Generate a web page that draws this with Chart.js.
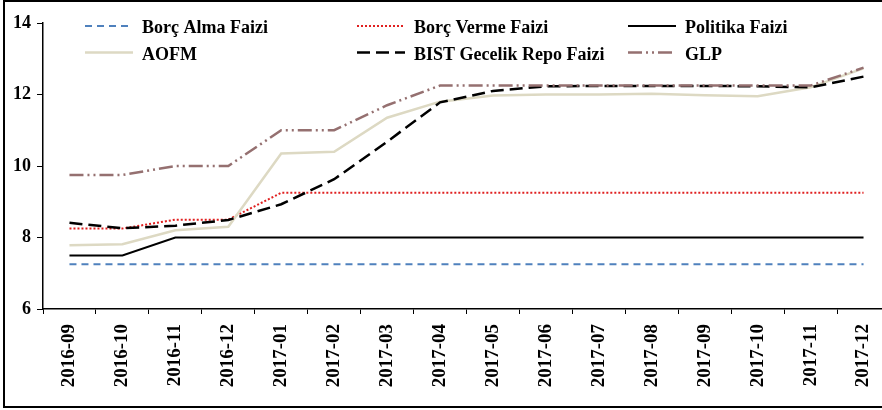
<!DOCTYPE html>
<html lang="tr">
<head>
    <meta charset="UTF-8">
    <title>Faiz Oranları</title>
    <script src="https://cdn.jsdelivr.net/npm/chart.js"></script>
    <style>
        html, body { margin: 0; padding: 0; background: #fff; overflow: hidden; }
        #kutu {
            position: absolute; left: 3px; top: 0px;
            width: 900px; height: 404px;
            border: 2px solid #000;
        }
    </style>
</head>
<body>
    <div id="kutu"><canvas id="grafik" width="900" height="404"></canvas></div>

    <script>
        // Aylar
        const aylar = ['2016-09', '2016-10', '2016-11', '2016-12', '2017-01', '2017-02', '2017-03', '2017-04',
                       '2017-05', '2017-06', '2017-07', '2017-08', '2017-09', '2017-10', '2017-11', '2017-12'];

        // Seriler (%)
        const borcAlma   = [7.25, 7.25, 7.25, 7.25, 7.25, 7.25, 7.25, 7.25, 7.25, 7.25, 7.25, 7.25, 7.25, 7.25, 7.25, 7.25];
        const borcVerme  = [8.25, 8.25, 8.5, 8.5, 9.25, 9.25, 9.25, 9.25, 9.25, 9.25, 9.25, 9.25, 9.25, 9.25, 9.25, 9.25];
        const politika   = [7.5, 7.5, 8, 8, 8, 8, 8, 8, 8, 8, 8, 8, 8, 8, 8, 8];
        const aofm       = [7.78, 7.81, 8.2, 8.3, 10.35, 10.4, 11.35, 11.8, 11.97, 12.0, 12.0, 12.02, 11.98, 11.95, 12.2, 12.73];
        const bist       = [8.41, 8.26, 8.33, 8.49, 8.93, 9.63, 10.68, 11.78, 12.1, 12.23, 12.24, 12.24, 12.24, 12.23, 12.2, 12.5];
        const glp        = [9.75, 9.75, 10, 10, 11, 11, 11.7, 12.25, 12.25, 12.25, 12.25, 12.25, 12.25, 12.25, 12.25, 12.75];

        // Y ekseni
        const yMin = 6, yMax = 14, yAdim = 2;

        Chart.defaults.font.family = "'Liberation Serif', 'DejaVu Serif', serif";
        Chart.defaults.font.weight = 'bold';
        Chart.defaults.font.size = 18;
        Chart.defaults.color = '#000';

        function seri(label, data, renk, kalinlik, kesik, sira) {
            return {
                label: label, data: data,
                borderColor: renk, backgroundColor: renk,
                borderWidth: kalinlik, borderDash: kesik,
                pointRadius: 0, tension: 0, fill: false, order: sira
            };
        }

        // Excel tarzi 3 sutunlu lejant
        const lejant = {
            id: 'lejant',
            afterDraw(chart) {
                const ctx = chart.ctx;
                const sutunX = [80, 352, 623];
                const satirY = [24, 50.5];
                chart.data.datasets.forEach((ds, i) => {
                    const x = sutunX[i % 3], y = satirY[Math.floor(i / 3)];
                    ctx.save();
                    ctx.strokeStyle = ds.borderColor;
                    ctx.lineWidth = ds.borderWidth;
                    ctx.setLineDash(ds.borderDash || []);
                    ctx.beginPath();
                    ctx.moveTo(x, y);
                    ctx.lineTo(x + 48, y);
                    ctx.stroke();
                    ctx.setLineDash([]);
                    ctx.fillStyle = '#000';
                    ctx.font = "bold 18px 'Liberation Serif', serif";
                    ctx.textBaseline = 'alphabetic';
                    ctx.fillText(ds.label, x + 57, y + 7);
                    ctx.restore();
                });
            }
        };

        new Chart(document.getElementById('grafik'), {
            type: 'line',
            data: {
                labels: aylar,
                datasets: [
                    seri('Borç Alma Faizi', borcAlma, '#4F81BD', 2, [7, 5], 6),
                    seri('Borç Verme Faizi', borcVerme, '#E02020', 2, [2, 2], 5),
                    seri('Politika Faizi', politika, '#000000', 2, [], 4),
                    seri('AOFM', aofm, '#DDD9C3', 2.5, [], 3),
                    seri('BIST Gecelik Repo Faizi', bist, '#000000', 2.5, [13, 6], 2),
                    seri('GLP', glp, '#957070', 2.5, [14, 4, 2, 4, 2, 4], 1)
                ]
            },
            options: {
                responsive: false,
                animation: false,
                layout: { padding: { top: 21, right: 15, left: 0, bottom: 0 } },
                plugins: { legend: { display: false }, tooltip: { enabled: false } },
                scales: {
                    x: {
                        offset: true,
                        grid: { display: true, drawOnChartArea: false, offset: true, tickLength: 5, color: '#000', lineWidth: 1 },
                        border: { color: '#000', width: 1.5 },
                        ticks: { maxRotation: 90, minRotation: 90, padding: 10, autoSkip: false, font: { size: 19 } },
                        afterFit(s) { s.height = 97; }
                    },
                    y: {
                        min: yMin, max: yMax,
                        grid: { display: true, drawOnChartArea: false, tickLength: 6, color: '#000', lineWidth: 1 },
                        border: { color: '#000', width: 1.5 },
                        ticks: { stepSize: yAdim, padding: 6 },
                        afterFit(s) { s.width = 38; }
                    }
                }
            },
            plugins: [lejant]
        });
    </script>
</body>
</html>
